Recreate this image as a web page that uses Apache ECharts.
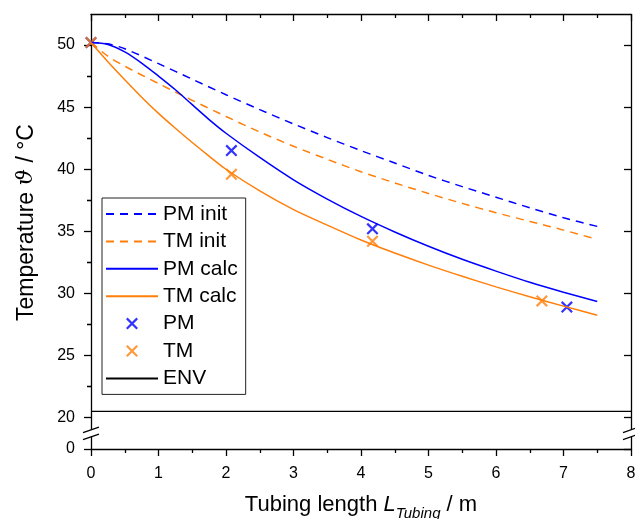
<!DOCTYPE html>
<html>
<head>
<meta charset="utf-8">
<script src="https://cdn.jsdelivr.net/npm/echarts@6/dist/echarts.min.js"></script>
<style>
  html, body { margin: 0; padding: 0; background: #fff; }
  #chart { width: 635px; height: 519px; }
</style>
</head>
<body>
<div id="chart"></div>
<script>
// x positions of the model curves (m)
var xInit = [0, 0.25, 0.5, 1, 1.5, 2, 2.5, 3, 3.5, 4, 4.5, 5, 5.5, 6, 6.5, 7, 7.5];
var pmInit = [50.2, 50.1, 49.7, 48.5, 47.25, 46.0, 44.8, 43.65, 42.55, 41.5, 40.5, 39.5, 38.6, 37.75, 36.9, 36.1, 35.4];
var tmInit = [50.2, 49.1, 48.3, 46.9, 45.55, 44.25, 43.0, 41.85, 40.8, 39.8, 38.9, 38.05, 37.25, 36.5, 35.8, 35.1, 34.35];

var xCalc = [0, 0.25, 0.5, 0.75, 1, 1.25, 1.5, 1.75, 2, 2.5, 3, 3.5, 4, 4.5, 5, 5.5, 6, 6.5, 7, 7.5];
var pmCalc = [50.2, 50.05, 49.45, 48.55, 47.5, 46.4, 45.2, 44.0, 42.9, 40.95, 39.15, 37.6, 36.2, 34.95, 33.8, 32.75, 31.8, 30.9, 30.1, 29.35];
var tmCalc = [50.2, 48.65, 47.2, 45.8, 44.5, 43.3, 42.15, 41.05, 40.0, 38.25, 36.75, 35.5, 34.3, 33.25, 32.28, 31.38, 30.53, 29.73, 28.98, 28.25];

// measured points
var pmX = [0, 2.08, 4.17, 7.05];
var pmY = [50.2, 41.5, 35.2, 28.9];
var tmX = [0, 2.08, 4.17, 6.68];
var tmY = [50.2, 39.6, 34.2, 29.4];

var envX = [0, 8];
var envY = [20.5, 20.5];

var yMajor = [0, 20, 25, 30, 35, 40, 45, 50];
var yMinor = [22.5, 27.5, 32.5, 37.5, 42.5, 47.5];
var yBreak = [1, 19];

var legendNames = ['PM init', 'TM init', 'PM calc', 'TM calc', 'PM', 'TM', 'ENV'];
var lineNames = ['PM init', 'TM init', 'PM calc', 'TM calc', 'ENV'];

var BLUE = '#0000ff';
var ORANGE = '#ff7f0a';
var FONT = 'Liberation Sans, Arial, sans-serif';
var cross = 'path://M0,1.3L1.3,0L10,8.7L8.7,10Z M8.7,0L10,1.3L1.3,10L0,8.7Z';

function zip(xs, ys) {
  return xs.map(function (x, i) { return [x, ys[i]]; });
}

function yAxisBase(pos, extra) {
  var ax = {
    type: 'value',
    position: pos,
    min: 0,
    max: 52.5,
    breaks: [{ start: yBreak[0], end: yBreak[1], gap: '1.5%' }],
    breakArea: { show: false },
    splitLine: { show: false },
    axisLine: { show: true, onZero: false, lineStyle: { color: '#000', width: 1.3 } },
    axisLabel: { show: false }
  };
  return Object.assign(ax, extra);
}

var tickLine = { color: '#000', width: 1.3 };

var option = {
  animation: false,
  grid: { left: 91, right: 4, top: 14, bottom: 70, outerBoundsMode: 'none' },
  xAxis: [
    {
      type: 'value', min: 0, max: 8, interval: 1, position: 'bottom',
      splitLine: { show: false },
      axisLine: { onZero: false, lineStyle: { color: '#000', width: 1.3 } },
      axisTick: { length: 7, lineStyle: tickLine },
      minorTick: { show: true, splitNumber: 2, length: 4, lineStyle: tickLine },
      axisLabel: { fontSize: 16, color: '#000', fontFamily: FONT, margin: 17 },
      name: '{n|Tubing length }{i|L}{s|Tubing}{n| / m}',
      nameLocation: 'middle',
      nameGap: 45,
      nameTextStyle: {
        rich: {
          n: { fontSize: 22, fontFamily: FONT, color: '#000', verticalAlign: 'top' },
          i: { fontSize: 22, fontFamily: FONT, color: '#000', fontStyle: 'italic', verticalAlign: 'top' },
          s: { fontSize: 15, fontFamily: FONT, color: '#000', fontStyle: 'italic', verticalAlign: 'top', padding: [12, 0, 0, 0] }
        }
      }
    },
    {
      type: 'value', min: 0, max: 8, interval: 1, position: 'top',
      splitLine: { show: false },
      axisLine: { onZero: false, lineStyle: { color: '#000', width: 1.3 } },
      axisTick: { inside: true, length: 7, lineStyle: tickLine },
      minorTick: { show: true, splitNumber: 2, length: 4, lineStyle: tickLine },
      axisLabel: { show: false }
    }
  ],
  yAxis: [
    yAxisBase('left', {
      axisTick: { customValues: yMajor, length: 7, lineStyle: tickLine },
      axisLabel: { show: true, customValues: yMajor, fontSize: 16, color: '#000', fontFamily: FONT, margin: 16 },
      name: '{n|Temperature }{g|ϑ}{n| / °C}',
      nameLocation: 'middle',
      nameGap: 53,
      nameTextStyle: {
        padding: [0, 0, 0, 18],
        rich: {
          n: { fontSize: 23, fontFamily: FONT, color: '#000' },
          g: { fontSize: 23, fontFamily: 'DejaVu Serif, serif', fontStyle: 'italic', color: '#000' }
        }
      }
    }),
    yAxisBase('left', {
      axisLine: { show: false },
      axisTick: { customValues: yMinor, length: 4, lineStyle: tickLine }
    }),
    yAxisBase('right', {
      axisTick: { customValues: yMajor, inside: true, length: 7, lineStyle: tickLine }
    }),
    yAxisBase('right', {
      axisLine: { show: false },
      axisTick: { customValues: yMinor, inside: true, length: 4, lineStyle: tickLine }
    })
  ],
  legend: {
    orient: 'vertical',
    left: 102,
    top: 198,
    padding: [5, 8, 5, 3],
    itemWidth: 52,
    itemHeight: 12,
    itemGap: 5.4,
    borderColor: '#222',
    borderWidth: 1,
    textStyle: { fontSize: 21, lineHeight: 22, color: '#000', fontFamily: FONT },
    // line entries show only their line, no symbol
    data: legendNames.map(function (n) {
      return lineNames.indexOf(n) >= 0 ? { name: n, itemStyle: { opacity: 0 } } : { name: n };
    })
  },
  series: [
    {
      name: 'PM init', type: 'line', data: zip(xInit, pmInit), symbol: 'none', smooth: 0.3,
      lineStyle: { color: BLUE, width: 1.5, type: [8, 6] }, itemStyle: { color: BLUE }
    },
    {
      name: 'TM init', type: 'line', data: zip(xInit, tmInit), symbol: 'none', smooth: 0.3,
      lineStyle: { color: ORANGE, width: 1.5, type: [8, 6] }, itemStyle: { color: ORANGE }
    },
    {
      name: 'PM calc', type: 'line', data: zip(xCalc, pmCalc), symbol: 'none', smooth: 0.3,
      lineStyle: { color: BLUE, width: 1.5 }, itemStyle: { color: BLUE }
    },
    {
      name: 'TM calc', type: 'line', data: zip(xCalc, tmCalc), symbol: 'none', smooth: 0.3,
      lineStyle: { color: ORANGE, width: 1.5 }, itemStyle: { color: ORANGE }
    },
    {
      name: 'PM', type: 'scatter', data: zip(pmX, pmY), symbol: cross, symbolSize: 12,
      symbolKeepAspect: true, itemStyle: { color: BLUE }
    },
    {
      name: 'TM', type: 'scatter', data: zip(tmX, tmY), symbol: cross, symbolSize: 12,
      symbolKeepAspect: true, itemStyle: { color: ORANGE }
    },
    {
      name: 'ENV', type: 'line', data: zip(envX, envY), symbol: 'none',
      lineStyle: { color: '#000', width: 1.3 }, itemStyle: { color: '#000' }
    }
  ]
};

var chart = echarts.init(document.getElementById('chart'));
chart.setOption(option);

// break marks on the left and right axis lines
var yLo = chart.convertToPixel({ yAxisIndex: 0 }, yBreak[0]);
var yHi = chart.convertToPixel({ yAxisIndex: 0 }, yBreak[1]);
var mid = (yLo + yHi) / 2;
var marks = [];
[0, 8].forEach(function (xv) {
  var px = chart.convertToPixel({ xAxisIndex: 0 }, xv);
  var dx = 8, dy = 2.8, off = 3.5;
  marks.push({
    type: 'polygon', z: 100,
    shape: { points: [[px - dx, mid - off + dy], [px + dx, mid - off - dy], [px + dx, mid + off - dy], [px - dx, mid + off + dy]] },
    style: { fill: '#fff' }
  });
  [-off, off].forEach(function (o) {
    marks.push({
      type: 'line', z: 101,
      shape: { x1: px - dx, y1: mid + o + dy, x2: px + dx, y2: mid + o - dy },
      style: { stroke: '#000', lineWidth: 1.3 }
    });
  });
});
chart.setOption({ graphic: marks });
</script>
</body>
</html>
